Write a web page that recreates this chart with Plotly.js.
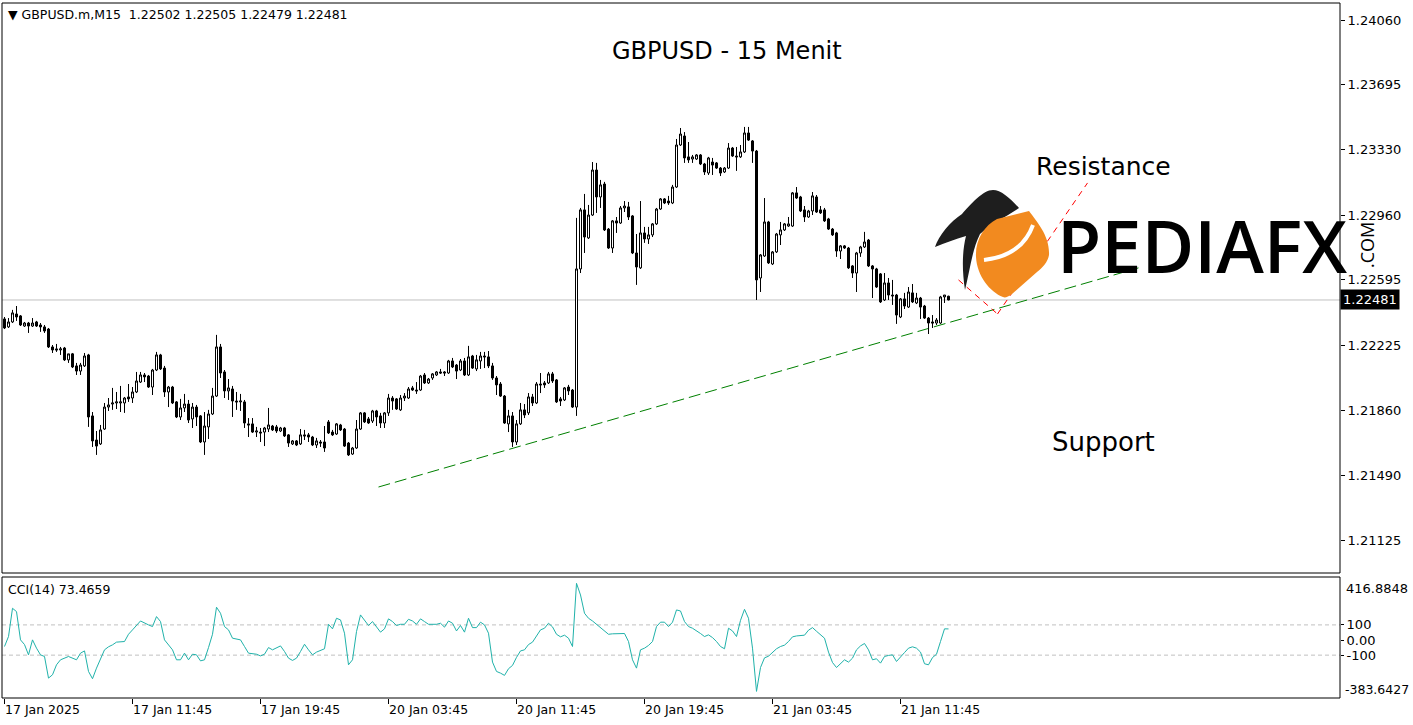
<!DOCTYPE html>
<html>
<head>
<meta charset="utf-8">
<script src="https://cdn.plot.ly/plotly-3.0.1.min.js"></script>
<style>html,body{margin:0;padding:0;background:#fff;}#chart{width:1413px;height:725px;}</style>
</head>
<body>
<div id="chart"></div>
<script>
// ---- Data (GBPUSD.m, M15) ----
const symbolHeader = "GBPUSD.m,M15";
const lastOHLC = [1.22502, 1.22505, 1.22479, 1.22481];
const timeTickBars = [0, 32, 64, 96, 128, 160, 192, 224];
const timeTickLabels = ["17 Jan 2025","17 Jan 11:45","17 Jan 19:45","20 Jan 03:45","20 Jan 11:45","20 Jan 19:45","21 Jan 03:45","21 Jan 11:45"];
const priceTicks = [1.24060, 1.23695, 1.23330, 1.22960, 1.22595, 1.22225, 1.21860, 1.21490, 1.21125];
const lastPrice = 1.22481;

const open = [
1.22374,1.22329,1.22357,1.22402,1.22391,1.22334,1.22351,1.22334,1.22357,1.22340,
1.22329,1.22317,1.22216,1.22205,1.22199,1.22210,1.22143,1.22177,1.22109,1.22080,
1.22109,1.22171,1.21827,1.21691,1.21669,1.21753,1.21877,1.21894,1.21900,1.21900,
1.21900,1.21934,1.21928,1.21962,1.22018,1.22058,1.22052,1.21990,1.22086,1.22171,
1.22097,1.21962,1.21990,1.21906,1.21821,1.21872,1.21894,1.21810,1.21877,1.21827,
1.21680,1.21765,1.21838,1.21939,1.22216,1.22075,1.21968,1.21979,1.21911,1.21906,
1.21906,1.21782,1.21782,1.21736,1.21736,1.21736,1.21753,1.21770,1.21765,1.21742,
1.21759,1.21720,1.21669,1.21686,1.21669,1.21720,1.21720,1.21708,1.21663,1.21680,
1.21680,1.21793,1.21736,1.21725,1.21776,1.21753,1.21674,1.21612,1.21646,1.21753,
1.21844,1.21810,1.21798,1.21855,1.21827,1.21787,1.21844,1.21928,1.21923,1.21861,
1.21928,1.21928,1.21985,1.21973,1.21973,1.22058,1.22013,1.22041,1.22058,1.22075,
1.22075,1.22069,1.22137,1.22114,1.22086,1.22137,1.22058,1.22165,1.22092,1.22137,
1.22165,1.22160,1.22109,1.22041,1.22007,1.21939,1.21782,1.21827,1.21680,1.21782,
1.21861,1.21844,1.21934,1.21900,1.22007,1.22013,1.22013,1.22064,1.22030,1.21923,
1.21917,1.21990,1.21973,1.21877,1.22656,1.22989,1.22831,1.22960,1.23214,1.23062,
1.23135,1.22881,1.22774,1.22927,1.22915,1.23000,1.23006,1.22955,1.22746,1.22662,
1.22859,1.22825,1.22848,1.22910,1.22994,1.23051,1.23039,1.23028,1.23118,1.23355,
1.23406,1.23288,1.23276,1.23276,1.23299,1.23248,1.23197,1.23259,1.23254,1.23225,
1.23203,1.23225,1.23338,1.23293,1.23288,1.23316,1.23423,1.23378,1.23321,1.22605,
1.22729,1.22921,1.22684,1.22752,1.22848,1.22876,1.22898,1.22898,1.23085,1.23062,
1.22989,1.22949,1.22983,1.23062,1.22989,1.22989,1.22938,1.22881,1.22859,1.22757,
1.22786,1.22774,1.22673,1.22633,1.22746,1.22780,1.22819,1.22673,1.22656,1.22628,
1.22481,1.22577,1.22509,1.22509,1.22385,1.22487,1.22441,1.22521,1.22464,1.22492,
1.22447,1.22379,1.22357,1.22351,1.22351,1.22498,1.22502];

const high = [
1.22385,1.22379,1.22425,1.22447,1.22396,1.22357,1.22357,1.22379,1.22363,1.22351,
1.22340,1.22323,1.22227,1.22233,1.22216,1.22216,1.22177,1.22182,1.22126,1.22126,
1.22182,1.22177,1.21849,1.21742,1.21776,1.21900,1.21928,1.21985,1.21962,1.21996,
1.21934,1.22007,1.21990,1.22075,1.22075,1.22069,1.22058,1.22092,1.22188,1.22177,
1.22109,1.21996,1.21996,1.21911,1.21923,1.21951,1.21917,1.21900,1.21889,1.21832,
1.21849,1.21861,1.21985,1.22284,1.22233,1.22086,1.22035,1.21996,1.21962,1.21951,
1.21917,1.21815,1.21815,1.21765,1.21759,1.21765,1.21872,1.21776,1.21776,1.21765,
1.21765,1.21725,1.21691,1.21691,1.21753,1.21748,1.21731,1.21714,1.21703,1.21691,
1.21770,1.21804,1.21748,1.21787,1.21782,1.21759,1.21680,1.21652,1.21804,1.21849,
1.21849,1.21821,1.21861,1.21861,1.21844,1.21849,1.21951,1.21939,1.21928,1.21945,
1.21956,1.21990,1.21996,1.22018,1.22058,1.22069,1.22041,1.22069,1.22080,1.22092,
1.22080,1.22143,1.22154,1.22120,1.22148,1.22154,1.22222,1.22171,1.22171,1.22188,
1.22188,1.22193,1.22126,1.22052,1.22018,1.21945,1.21861,1.21849,1.21804,1.21900,
1.21894,1.21956,1.21951,1.22018,1.22069,1.22024,1.22075,1.22075,1.22035,1.21934,
1.21990,1.22002,1.21979,1.22944,1.23000,1.23079,1.23017,1.23259,1.23254,1.23158,
1.23147,1.22887,1.22932,1.22949,1.23011,1.23039,1.23034,1.22960,1.22853,1.23039,
1.22893,1.22893,1.22915,1.23000,1.23056,1.23056,1.23068,1.23130,1.23389,1.23451,
1.23428,1.23372,1.23299,1.23304,1.23304,1.23254,1.23288,1.23282,1.23259,1.23231,
1.23231,1.23366,1.23344,1.23344,1.23355,1.23457,1.23457,1.23383,1.23327,1.22740,
1.23056,1.22927,1.22757,1.22859,1.22921,1.22915,1.22949,1.23090,1.23118,1.23068,
1.23011,1.22989,1.23090,1.23073,1.23011,1.23000,1.22944,1.22887,1.22865,1.22791,
1.22791,1.22780,1.22678,1.22752,1.22786,1.22865,1.22825,1.22678,1.22662,1.22633,
1.22633,1.22605,1.22594,1.22515,1.22492,1.22521,1.22554,1.22571,1.22521,1.22498,
1.22453,1.22385,1.22396,1.22379,1.22504,1.22509,1.22505];

const low = [
1.22317,1.22323,1.22351,1.22363,1.22334,1.22329,1.22295,1.22329,1.22329,1.22301,
1.22295,1.22210,1.22182,1.22188,1.22171,1.22137,1.22126,1.22097,1.22058,1.22058,
1.22103,1.21765,1.21652,1.21607,1.21663,1.21748,1.21855,1.21861,1.21866,1.21849,
1.21844,1.21906,1.21900,1.21956,1.22013,1.22018,1.21985,1.21945,1.22080,1.22086,
1.21934,1.21877,1.21894,1.21815,1.21804,1.21849,1.21787,1.21759,1.21770,1.21674,
1.21607,1.21697,1.21832,1.21934,1.22041,1.21928,1.21917,1.21821,1.21861,1.21855,
1.21759,1.21708,1.21731,1.21708,1.21680,1.21657,1.21736,1.21742,1.21731,1.21736,
1.21708,1.21652,1.21663,1.21657,1.21663,1.21691,1.21680,1.21657,1.21646,1.21652,
1.21624,1.21725,1.21714,1.21720,1.21742,1.21652,1.21601,1.21607,1.21641,1.21748,
1.21787,1.21782,1.21787,1.21770,1.21759,1.21759,1.21827,1.21861,1.21861,1.21855,
1.21911,1.21923,1.21968,1.21951,1.21968,1.22007,1.22007,1.22030,1.22052,1.22064,
1.22052,1.22064,1.22097,1.22035,1.22080,1.22052,1.22052,1.22092,1.22080,1.22092,
1.22097,1.22097,1.22030,1.21945,1.21934,1.21782,1.21736,1.21652,1.21663,1.21776,
1.21815,1.21832,1.21883,1.21894,1.21956,1.21985,1.22007,1.22013,1.21900,1.21883,
1.21911,1.21945,1.21872,1.21827,1.22633,1.22746,1.22825,1.22955,1.22972,1.23000,
1.22870,1.22769,1.22746,1.22859,1.22910,1.22977,1.22932,1.22740,1.22566,1.22656,
1.22803,1.22797,1.22836,1.22904,1.22989,1.23022,1.23017,1.23022,1.23113,1.23350,
1.23254,1.23254,1.23254,1.23271,1.23242,1.23186,1.23186,1.23186,1.23220,1.23180,
1.23197,1.23220,1.23288,1.23209,1.23282,1.23310,1.23378,1.23254,1.22481,1.22526,
1.22724,1.22684,1.22678,1.22746,1.22791,1.22870,1.22893,1.22893,1.23051,1.22977,
1.22921,1.22944,1.22960,1.22972,1.22966,1.22921,1.22876,1.22842,1.22724,1.22712,
1.22769,1.22656,1.22605,1.22526,1.22724,1.22774,1.22667,1.22492,1.22549,1.22464,
1.22475,1.22481,1.22453,1.22346,1.22379,1.22430,1.22436,1.22464,1.22458,1.22374,
1.22374,1.22289,1.22323,1.22340,1.22346,1.22464,1.22479];

const close = [
1.22323,1.22357,1.22408,1.22385,1.22340,1.22351,1.22334,1.22351,1.22334,1.22329,
1.22306,1.22216,1.22199,1.22199,1.22205,1.22143,1.22177,1.22103,1.22080,1.22114,
1.22165,1.21821,1.21686,1.21657,1.21748,1.21877,1.21889,1.21900,1.21906,1.21906,
1.21928,1.21923,1.21962,1.22024,1.22058,1.22047,1.21990,1.22086,1.22171,1.22092,
1.21962,1.21990,1.21900,1.21821,1.21872,1.21894,1.21804,1.21877,1.21821,1.21680,
1.21770,1.21838,1.21939,1.22216,1.22069,1.21968,1.21985,1.21911,1.21906,1.21911,
1.21787,1.21776,1.21736,1.21742,1.21731,1.21759,1.21776,1.21748,1.21742,1.21759,
1.21714,1.21674,1.21686,1.21663,1.21720,1.21714,1.21708,1.21663,1.21686,1.21674,
1.21646,1.21731,1.21720,1.21782,1.21748,1.21657,1.21607,1.21646,1.21753,1.21844,
1.21793,1.21787,1.21855,1.21821,1.21787,1.21844,1.21928,1.21911,1.21866,1.21928,
1.21939,1.21979,1.21973,1.21968,1.22052,1.22013,1.22035,1.22064,1.22075,1.22069,
1.22069,1.22137,1.22103,1.22080,1.22137,1.22058,1.22160,1.22097,1.22143,1.22165,
1.22160,1.22109,1.22041,1.22002,1.21939,1.21787,1.21827,1.21680,1.21782,1.21861,
1.21832,1.21934,1.21900,1.22007,1.22002,1.22002,1.22064,1.22024,1.21906,1.21911,
1.21985,1.21968,1.21877,1.22656,1.22989,1.22836,1.22960,1.23214,1.23062,1.23130,
1.22876,1.22774,1.22927,1.22915,1.23000,1.23011,1.22949,1.22746,1.22667,1.22859,
1.22825,1.22848,1.22910,1.22994,1.23051,1.23028,1.23028,1.23118,1.23355,1.23417,
1.23282,1.23271,1.23288,1.23299,1.23248,1.23203,1.23282,1.23242,1.23225,1.23197,
1.23225,1.23338,1.23293,1.23288,1.23316,1.23423,1.23383,1.23321,1.22594,1.22735,
1.22921,1.22690,1.22752,1.22853,1.22876,1.22910,1.22910,1.23085,1.23056,1.22983,
1.22949,1.22983,1.23068,1.22977,1.22972,1.22927,1.22881,1.22848,1.22757,1.22786,
1.22774,1.22662,1.22633,1.22746,1.22780,1.22808,1.22673,1.22656,1.22554,1.22470,
1.22577,1.22509,1.22504,1.22396,1.22487,1.22447,1.22526,1.22470,1.22492,1.22441,
1.22379,1.22351,1.22351,1.22368,1.22498,1.22509,1.22481];

// CCI(14) readings: bar index and value
const cciBar = [0,1,2,3,4,5,6,7,8,9,10,11,12,13,14,16,18,19,20,21,22,23,25,26,27,28,30,31,32,34,36,37,38,39,40,42,43,44,45,46,47,48,49,50,51,52,53,54,55,56,57,58,59,60,61,63,64,65,66,67,68,69,70,71,72,73,74,75,76,77,78,80,81,82,83,84,85,86,87,88,89,90,91,92,93,94,95,96,97,98,99,100,101,102,103,104,105,106,108,109,110,111,112,113,114,115,116,117,118,119,
120,121,122,123,124,125,126,127,128,129,130,131,132,133,134,135,136,137,138,139,140,141,142,143,144,145,146,147,148,149,150,151,152,153,154,155,156,157,158,159,160,161,162,163,164,165,166,167,168,169,170,171,172,173,174,175,176,177,178,179,180,181,182,183,184,185,186,187,188,189,190,191,192,193,194,195,196,197,198,199,200,201,202,203,204,205,206,207,208,209,210,211,212,213,214,215,216,217,218,219,220,221,222,223,224,225,226,227,228,229,230,231,232,233,234,235,236];
const cciVal = [-43,23,210,188,1,-30,-98,1,-54,-98,-109,-252,-230,-164,-131,-109,-131,-87,-72,-208,-256,-186,-65,-45,-32,-14,-10,38,67,126,100,89,155,122,1,-65,-131,-131,-87,-131,-94,-98,-138,-131,-50,38,217,177,89,67,12,8,1,-43,-87,-94,-105,-94,-50,-65,-54,-39,-76,-120,-135,-120,-76,-28,-65,-98,-80,-58,104,74,144,133,45,-164,-131,56,166,133,96,122,89,52,74,140,122,96,104,104,137,126,104,140,122,104,104,111,85,126,111,60,96,52,144,82,82,118,
100,45,-146,-208,-219,-234,-190,-168,-115,-72,-65,-30,-14,28,67,78,111,87,38,21,32,12,-43,375,298,177,144,126,104,78,56,38,41,43,43,43,-10,-131,-186,-65,-54,-36,-10,89,118,118,89,118,199,192,122,89,78,63,43,23,34,16,-10,-43,-58,78,60,23,130,203,144,-54,-340,-182,-118,-107,-80,-58,-43,-34,-10,21,27,27,32,65,82,58,34,12,-80,-149,-182,-153,-131,-146,-120,-65,-39,-23,-65,-131,-124,-153,-109,-102,-98,-142,-109,-83,-54,-45,-54,-80,-157,-164,-116,-94,-10,74,73.4659];
const cciMax = 416.8848, cciMin = -383.6427;
const cciLevels = [100, 0, -100];

// drawn trend objects (bar index, price)
const supportLine = {x0: 93.5, y0: 1.21426, x1: 283.5, y1: 1.22662};
const resistanceLines = [
  {x0: 238.5, y0: 1.22594, x1: 248.25, y1: 1.22402},
  {x0: 248.25, y0: 1.22402, x1: 270.75, y1: 1.23141}
];

// ---- Chart ----
const bars = open.map((_, i) => i);
const FONT = 'DejaVu Sans, Verdana, sans-serif';
const HAND = 'Comic Sans MS, DejaVu Sans, sans-serif';

const candles = {
  type: 'candlestick', x: bars, open: open, high: high, low: low, close: close,
  xaxis: 'x', yaxis: 'y',
  increasing: {line: {color: '#000000', width: 1}, fillcolor: '#ffffff'},
  decreasing: {line: {color: '#000000', width: 1}, fillcolor: '#000000'},
  whiskerwidth: 0, hoverinfo: 'skip', showlegend: false
};
const cci = {
  type: 'scatter', mode: 'lines', x: cciBar, y: cciVal, xaxis: 'x', yaxis: 'y2',
  line: {color: '#20B2AA', width: 1}, hoverinfo: 'skip', showlegend: false
};

// logo artwork (decorative) as inline svg
const logoSvg = '<svg xmlns="http://www.w3.org/2000/svg" width="1413" height="725" viewBox="0 0 1413 725">' +
 '<path d="M962 214 C950 222 939 235 935 247 C945 243 955 239 966 236 C962 252 962 270 965 290 C970 270 972 250 980 234 C990 225 1005 217 1019 208 C1010 198 1001 190 993 190 C983 190 971 204 962 214 Z" fill="#1e1e1e"/>' +
 '<path d="M1003 297 C990 292 977 276 976 257 C975 240 984 226 997 219 L1029 211 C1037 222 1050 236 1049 255 C1048 262 1042 268 1037 272 L1012 294 C1008 297 1005 298 1003 297 Z" fill="#F28A1F"/>' +
 '<path d="M984 260 C1002 258 1024 250 1033 225" stroke="#ffffff" stroke-width="4" fill="none"/>' +
 '</svg>';
const logoSrc = 'data:image/svg+xml;charset=utf-8,' + encodeURIComponent(logoSvg);

const W = 1413, H = 725, ML = 2, MR = 73, MT = 3, MB = 27;
const PW = W - ML - MR, PH = H - MT - MB;
const px = v => (v - ML) / PW;         // pixel -> paper x
const py = v => (H - MB - v) / PH;     // pixel -> paper y
const mainBottom = py(573), cciTop = py(577);

const shapes = [
  {type: 'line', xref: 'paper', yref: 'y', x0: 0, x1: 1, y0: lastPrice, y1: lastPrice, line: {color: '#c0c0c0', width: 1}, layer: 'below'},
  {type: 'line', xref: 'paper', yref: 'y2', x0: 0, x1: 1, y0: cciLevels[0], y1: cciLevels[0], line: {color: '#c0c0c0', width: 1, dash: '4px,3px'}, layer: 'below'},
  {type: 'line', xref: 'paper', yref: 'y2', x0: 0, x1: 1, y0: cciLevels[2], y1: cciLevels[2], line: {color: '#c0c0c0', width: 1, dash: '4px,3px'}, layer: 'below'},
  {type: 'line', xref: 'x', yref: 'y', x0: supportLine.x0, y0: supportLine.y0, x1: supportLine.x1, y1: supportLine.y1, line: {color: '#008000', width: 1, dash: '12px,5px'}, layer: 'below'}
];
resistanceLines.forEach(r => shapes.push({type: 'line', xref: 'x', yref: 'y', x0: r.x0, y0: r.y0, x1: r.x1, y1: r.y1, line: {color: '#ff0000', width: 1, dash: '6px,5px'}, layer: 'below'}));
shapes.push({type: 'rect', xref: 'paper', yref: 'paper', x0: 0, x1: 1, y0: mainBottom, y1: 1, line: {color: '#000', width: 1}, fillcolor: 'rgba(0,0,0,0)', layer: 'above'});
shapes.push({type: 'rect', xref: 'paper', yref: 'paper', x0: 0, x1: 1, y0: 0, y1: cciTop, line: {color: '#000', width: 1}, fillcolor: 'rgba(0,0,0,0)', layer: 'above'});

const annotations = [
  {xref: 'paper', yref: 'paper', x: px(6), y: py(14), xanchor: 'left', yanchor: 'middle', showarrow: false,
   text: '\u25BC ' + symbolHeader + '\u00a0\u00a0' + lastOHLC.map(v => v.toFixed(5)).join(' '), font: {family: FONT, size: 12.5, color: '#000'}},
  {xref: 'paper', yref: 'paper', x: px(727), y: py(51), xanchor: 'center', yanchor: 'middle', showarrow: false,
   text: 'GBPUSD - 15 Menit', font: {family: HAND, size: 24, color: '#000'}},
  {xref: 'paper', yref: 'paper', x: px(1103), y: py(167), xanchor: 'center', yanchor: 'middle', showarrow: false,
   text: 'Resistance', font: {family: HAND, size: 25, color: '#000'}},
  {xref: 'paper', yref: 'paper', x: px(1103), y: py(442), xanchor: 'center', yanchor: 'middle', showarrow: false,
   text: 'Support', font: {family: HAND, size: 26, color: '#000'}},
  {xref: 'paper', yref: 'paper', x: px(1055), y: py(245), xanchor: 'left', yanchor: 'middle', showarrow: false,
   text: 'PEDIAFX', font: {family: 'Open Sans, Roboto, sans-serif', size: 72, color: '#000', weight: 600}},
  {xref: 'paper', yref: 'paper', x: px(1367), y: py(245), xanchor: 'center', yanchor: 'middle', showarrow: false, textangle: -90,
   text: '.COM', font: {family: 'Open Sans, Roboto, sans-serif', size: 18, color: '#000'}},
  {xref: 'paper', yref: 'y', x: 1, y: lastPrice, xanchor: 'left', yanchor: 'middle', showarrow: false,
   text: lastPrice.toFixed(5), bgcolor: '#000000', borderpad: 2, font: {family: FONT, size: 13, color: '#ffffff'}},
  {xref: 'paper', yref: 'paper', x: px(6), y: py(589), xanchor: 'left', yanchor: 'middle', showarrow: false,
   text: 'CCI(14) ' + cciVal[cciVal.length - 1].toFixed(4), font: {family: FONT, size: 12.5, color: '#000'}},
  {xref: 'paper', yref: 'paper', x: px(1344), y: py(588), xanchor: 'left', yanchor: 'middle', showarrow: false,
   text: cciMax.toFixed(4), font: {family: FONT, size: 13, color: '#000'}},
  {xref: 'paper', yref: 'paper', x: px(1411), y: py(689), xanchor: 'right', yanchor: 'middle', showarrow: false,
   text: cciMin.toFixed(4), font: {family: FONT, size: 12.5, color: '#000'}}
];

const layout = {
  width: W, height: H, margin: {l: ML, r: MR, t: MT, b: MB, pad: 0},
  paper_bgcolor: '#ffffff', plot_bgcolor: '#ffffff', showlegend: false,
  boxgap: 0.5, boxgroupgap: 0, hovermode: false, dragmode: false,
  xaxis: {range: [-0.625, 333.875], anchor: 'y2', tickvals: timeTickBars, ticktext: timeTickLabels,
    ticks: 'outside', ticklen: 5, tickcolor: '#000', ticklabelposition: 'outside right',
    showgrid: false, zeroline: false, showline: false, fixedrange: true,
    tickfont: {family: FONT, size: 12.5, color: '#000'}, rangeslider: {visible: false}},
  yaxis: {domain: [mainBottom, 1], range: [1.20941, 1.24156], side: 'right', anchor: 'x',
    tickvals: priceTicks, ticktext: priceTicks.map(v => v.toFixed(5)),
    ticks: 'outside', ticklen: 4, tickcolor: '#000', showgrid: false, zeroline: false, showline: false,
    fixedrange: true, tickfont: {family: FONT, size: 13, color: '#000'}},
  yaxis2: {domain: [0, cciTop], range: [cciMin, cciMax], side: 'right', anchor: 'x',
    tickvals: cciLevels, ticktext: ['100', '0.00', '-100'],
    ticks: 'outside', ticklen: 3, tickcolor: '#000', showgrid: false, zeroline: false, showline: false,
    fixedrange: true, tickfont: {family: FONT, size: 13, color: '#000'}},
  shapes: shapes,
  annotations: annotations,
  images: [{source: logoSrc, xref: 'paper', yref: 'paper', x: px(0), y: 1 + MT / PH, sizex: W / PW, sizey: H / PH,
    xanchor: 'left', yanchor: 'top', sizing: 'stretch', layer: 'above'}]
};

Plotly.newPlot('chart', [candles, cci], layout, {displayModeBar: false, staticPlot: true});
</script>
</body>
</html>
